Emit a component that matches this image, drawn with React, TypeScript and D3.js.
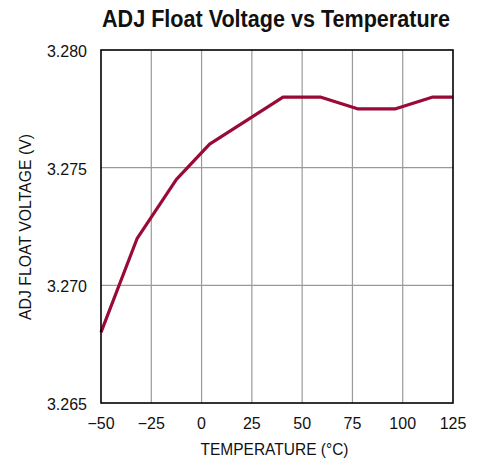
import React from "react";
import * as d3 from "d3";

const temps = [-50, -32, -12.5, 4, 40.5, 59, 77.5, 96.5, 115, 125];
const volts = [3.268, 3.272, 3.2745, 3.276, 3.278, 3.278, 3.2775, 3.2775, 3.278, 3.278];
const xTicks = [-50, -25, 0, 25, 50, 75, 100, 125];
const yTicks = [3.265, 3.27, 3.275, 3.28];

const W = 483;
const H = 463;
const M = { left: 101, right: 453, top: 50, bottom: 403 };
const FONT = "'Liberation Sans', Arial, sans-serif";

export default function App() {
  const x = d3.scaleLinear().domain([-50, 125]).range([M.left, M.right]);
  const y = d3.scaleLinear().domain([3.265, 3.28]).range([M.bottom, M.top]);
  const pts: [number, number][] = temps.map((t, i) => [t, volts[i]]);
  const line = d3
    .line<[number, number]>()
    .x((d) => x(d[0]))
    .y((d) => y(d[1]));

  const fmtX = (v: number) => (v < 0 ? "\u2212" + Math.abs(v) : String(v));

  return (
    <svg
      width={W}
      height={H}
      style={{ position: "fixed", left: 0, top: 0, background: "#fff" }}
    >
      <rect x={0} y={0} width={W} height={H} fill="#fff" />
      {xTicks.slice(1, -1).map((t) => (
        <line key={"gx" + t} x1={x(t)} x2={x(t)} y1={M.top} y2={M.bottom} stroke="#9a9a9a" strokeWidth={1.2} />
      ))}
      {yTicks.slice(1, -1).map((t) => (
        <line key={"gy" + t} x1={M.left} x2={M.right} y1={y(t)} y2={y(t)} stroke="#9a9a9a" strokeWidth={1.2} />
      ))}
      <path d={line(pts) || ""} fill="none" stroke="#9a0a36" strokeWidth={3.2} strokeLinejoin="round" />
      <rect
        x={M.left}
        y={M.top}
        width={M.right - M.left}
        height={M.bottom - M.top}
        fill="none"
        stroke="#000"
        strokeWidth={1.6}
      />
      {xTicks.map((t) => (
        <text key={"tx" + t} x={x(t)} y={429} textAnchor="middle" fontFamily={FONT} fontSize={16} fill="#111">
          {fmtX(t)}
        </text>
      ))}
      {yTicks.map((t) => (
        <text key={"ty" + t} x={87} y={y(t) + 7} textAnchor="end" fontFamily={FONT} fontSize={16} fill="#111">
          {t.toFixed(3)}
        </text>
      ))}
      <text
        x={276}
        y={27}
        textAnchor="middle"
        fontFamily={FONT}
        fontWeight="bold"
        fontSize={23}
        textLength={348}
        lengthAdjust="spacingAndGlyphs"
        fill="#111"
      >
        ADJ Float Voltage vs Temperature
      </text>
      <text
        x={274.5}
        y={455}
        textAnchor="middle"
        fontFamily={FONT}
        fontSize={16}
        textLength={148}
        lengthAdjust="spacingAndGlyphs"
        fill="#111"
      >
        TEMPERATURE (°C)
      </text>
      <text
        transform="translate(31,227) rotate(-90)"
        textAnchor="middle"
        fontFamily={FONT}
        fontSize={16}
        textLength={186}
        lengthAdjust="spacingAndGlyphs"
        fill="#111"
      >
        ADJ FLOAT VOLTAGE (V)
      </text>
    </svg>
  );
}
